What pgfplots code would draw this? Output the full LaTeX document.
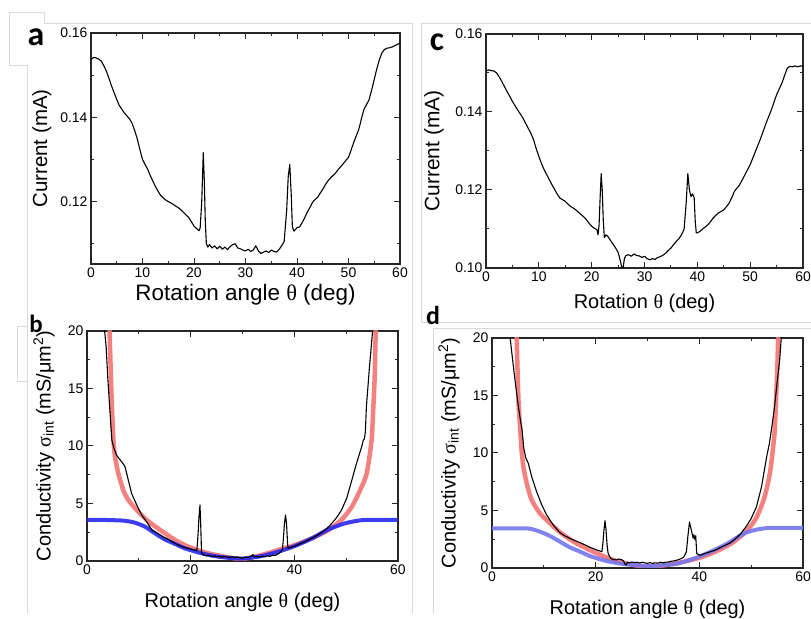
\documentclass[border=0pt]{standalone}
\usepackage{fontspec}
\setmainfont{Liberation Sans}
\newfontfamily\grk{Liberation Serif}
\newfontfamily\panelfont{Carlito}
\usepackage{pgfplots}
\pgfplotsset{compat=1.18}
\definecolor{fitred}{HTML}{F47272}
\definecolor{fitblue}{HTML}{2828F0}
\definecolor{fitbluelt}{HTML}{7676EC}
\definecolor{framegray}{HTML}{DADADA}
\newcommand{\ticksz}{\fontsize{14}{14}\selectfont}
\newcommand{\labsz}{\fontsize{20}{20}\selectfont}
\pgfplotsset{
  panel/.style={
    scale only axis,
    anchor=south west,
    xmin=0, xmax=60,
    axis line style={black!85, line width=1.2bp},
    every tick/.style={black!85, line width=1bp},
    major tick length=6bp,
    minor tick length=3bp,
    tick align=inside,
    tick label style={font=\ticksz},
    label style={font=\labsz},
    /pgf/number format/assume math mode=true,
  },
  current/.style={panel,
    xtick={0,10,...,60}, minor xtick={5,15,...,55},
    scaled y ticks=false,
    yticklabel style={/pgf/number format/.cd, fixed, fixed zerofill, precision=2},
    ylabel={Current (mA)}},
  cond/.style={panel, ymin=0, ymax=20,
    xtick={0,20,40,60}, minor xtick={10,30,50},
    ytick={0,5,10,15,20}, minor ytick={2.5,7.5,12.5,17.5},
    xlabel={Rotation angle {\grk θ} (deg)},
    ylabel={Conductivity {\grk σ}\textsubscript{int} (mS/μm\textsuperscript{2})}},
  meas/.style={black, line width=1.1bp, line join=round},
  redfit/.style={fitred, line width=4.5bp, opacity=0.9, smooth, tension=0.4},
}

\begin{document}
\begin{tikzpicture}[x=1bp, y=1bp]
\useasboundingbox (0,0) rectangle (811,619);

% screenshot frame lines
\draw[framegray, line width=0.8bp]
  (27,6) -- (27,554) -- (9,554) -- (9,607) -- (44,607) -- (44,596) -- (412,596) -- (412,6);
\draw[framegray, line width=0.8bp] (421,297) -- (421,596) -- (811,596);
\draw[framegray, line width=0.8bp] (421,297) -- (811,297);
\draw[framegray, line width=0.8bp] (433,6) -- (433,291) -- (811,291);
\draw[framegray, line width=0.8bp] (27,293) -- (17,293) -- (17,238) -- (27,238);

% ---- panel a
\begin{axis}[current, at={(91bp,355bp)}, width=309bp, height=231bp,
  ymin=0.1052, ymax=0.16,
  ytick={0.12,0.14,0.16}, minor ytick={0.11,0.13,0.15},
  xlabel={Rotation angle {\grk θ} (deg)},
  xlabel style={font=\fontsize{22.5}{22.5}\selectfont, at={(axis description cs:0.5,-0.134)}, anchor=center},
  ylabel style={font=\fontsize{20.5}{20.5}\selectfont, at={(axis description cs:-0.159,0.5)}, anchor=center},
]
\addplot[meas] coordinates {
(0,0.1537) (0.5,0.1542) (1,0.1541) (1.5,0.1538) (2,0.1533) (2.5,0.1522)
(3,0.1509) (3.5,0.1492) (4,0.1474) (4.5,0.1458) (5,0.1442) (5.5,0.1428)
(6,0.1419) (6.5,0.1410) (7,0.1403) (7.5,0.1396) (8,0.1385) (8.5,0.1368)
(9,0.1348) (9.5,0.1323) (10,0.1300) (10.5,0.1288) (11,0.1277) (11.5,0.1262)
(12,0.1249) (12.5,0.1236) (13,0.1225) (13.5,0.1215) (14,0.1209) (14.5,0.1204)
(15,0.1200) (15.5,0.1197) (16,0.1193) (16.5,0.1189) (17,0.1185) (17.5,0.1180)
(18,0.1174) (18.5,0.1168) (19,0.1162) (19.5,0.1152) (20,0.1142) (20.5,0.1136)
(21,0.1131) (21.2,0.1138) (21.5,0.1200) (21.8,0.1316) (22.0,0.1250) (22.2,0.1150)
(22.4,0.1100) (22.7,0.1092) (23,0.1098) (23.5,0.1090) (24,0.1095) (24.5,0.1088)
(25,0.1094) (25.5,0.1087) (26,0.1092) (26.5,0.1086) (27,0.1093) (27.5,0.1098)
(28,0.1100) (28.5,0.1090) (29,0.1088) (29.5,0.1085) (30,0.1083) (30.5,0.1087)
(31,0.1082) (31.5,0.1085) (32,0.1095) (32.5,0.1083) (33,0.1077) (33.5,0.1080)
(34,0.1083) (34.5,0.1079) (35,0.1085) (35.5,0.1082) (36,0.1080) (36.5,0.1086)
(37,0.1095) (37.5,0.1105) (38,0.1180) (38.3,0.1260) (38.6,0.1288) (38.9,0.1210)
(39.1,0.1140) (39.4,0.1130) (40,0.1138) (40.5,0.1140) (41,0.1150) (41.5,0.1162)
(42,0.1175) (42.5,0.1186) (43,0.1198) (43.5,0.1205) (44,0.1210) (44.5,0.1220)
(45,0.1229) (45.5,0.1240) (46,0.1249) (46.5,0.1256) (47,0.1262) (47.5,0.1268)
(48,0.1276) (48.5,0.1283) (49,0.1290) (49.5,0.1298) (50,0.1305) (50.5,0.1322)
(51,0.1340) (51.5,0.1356) (52,0.1371) (52.5,0.1396) (53,0.1419) (53.5,0.1430)
(54,0.1442) (54.5,0.1465) (55,0.1490) (55.5,0.1515) (56,0.1537) (56.5,0.1553)
(57,0.1561) (57.5,0.1564) (58,0.1565) (58.5,0.1567) (59,0.1570) (59.5,0.1573)
(60,0.1576)
};
\end{axis}

% ---- panel c
\begin{axis}[current, at={(486bp,351bp)}, width=317bp, height=234bp,
  ymin=0.10, ymax=0.16,
  ytick={0.10,0.12,0.14,0.16}, minor ytick={0.11,0.13,0.15},
  xlabel={Rotation {\grk θ} (deg)},
  xlabel style={at={(axis description cs:0.5,-0.15)}, anchor=center},
  ylabel style={font=\fontsize{21}{21}\selectfont, at={(axis description cs:-0.164,0.5)}, anchor=center},
]
\addplot[meas] coordinates {
(0,0.1505) (0.5,0.1508) (1,0.1506) (1.5,0.1505) (2,0.1500) (2.5,0.1490)
(3,0.1478) (3.5,0.1465) (4,0.1452) (4.5,0.1440) (5,0.1427) (5.5,0.1416)
(6,0.1405) (6.5,0.1395) (7,0.1384) (7.5,0.1371) (8,0.1358) (8.5,0.1345)
(9,0.1329) (9.5,0.1306) (10,0.1286) (10.5,0.1268) (11,0.1252) (11.5,0.1239)
(12,0.1226) (12.5,0.1213) (13,0.1201) (13.5,0.1189) (14,0.1179) (14.5,0.1175)
(15,0.1171) (15.5,0.1164) (16,0.1158) (16.5,0.1154) (17,0.1149) (17.5,0.1143)
(18,0.1137) (18.5,0.1131) (19,0.1124) (19.5,0.1115) (20,0.1107) (20.5,0.1102)
(21,0.1098) (21.2,0.1085) (21.4,0.1110) (21.6,0.1180) (21.8,0.1242) (22.0,0.1200)
(22.2,0.1120) (22.4,0.1078) (22.7,0.1085) (23,0.1082) (23.5,0.1072) (24,0.1062)
(24.5,0.1052) (25,0.1040) (25.3,0.1025) (25.6,0.1008) (25.9,0.0995) (26.2,0.1025)
(26.5,0.1032) (27,0.1034) (27.5,0.1030) (28,0.1036) (28.5,0.1032) (29,0.1031)
(29.5,0.1027) (30,0.1030) (30.5,0.1024) (31,0.1021) (31.5,0.1024) (32,0.1022)
(32.5,0.1027) (33,0.1029) (33.5,0.1033) (34,0.1038) (34.5,0.1045) (35,0.1051)
(35.5,0.1060) (36,0.1068) (36.5,0.1075) (37,0.1085) (37.5,0.1100) (37.9,0.1170)
(38.2,0.1242) (38.5,0.1200) (38.8,0.1183) (39.1,0.1190) (39.4,0.1180) (39.6,0.1120)
(39.8,0.1090) (40,0.1090) (40.5,0.1094) (41,0.1100) (41.5,0.1105) (42,0.1111)
(42.5,0.1119) (43,0.1128) (43.5,0.1135) (44,0.1141) (44.5,0.1145) (45,0.1149)
(45.5,0.1157) (46,0.1166) (46.5,0.1180) (47,0.1196) (47.5,0.1205) (48,0.1213)
(48.5,0.1226) (49,0.1239) (49.5,0.1252) (50,0.1265) (50.5,0.1282) (51,0.1299)
(51.5,0.1316) (52,0.1333) (52.5,0.1352) (53,0.1371) (53.5,0.1388) (54,0.1405)
(54.5,0.1425) (55,0.1444) (55.5,0.1459) (56,0.1474) (56.5,0.1493) (57,0.1512)
(57.5,0.1517) (58,0.1516) (58.5,0.1518) (59,0.1516) (59.5,0.1518) (60,0.1518)
};
\end{axis}

% ---- panel b
\begin{axis}[cond, at={(87bp,58bp)}, width=311bp, height=230bp,
  xlabel style={at={(axis description cs:0.5,-0.178)}, anchor=center},
  ylabel style={at={(axis description cs:-0.138,0.5)}, anchor=center},
]
\addplot[redfit] coordinates {
(4.30,22) (4.35,20) (4.55,17) (4.8,13.5) (5.1,10.5) (5.4,9.07) (6.04,7.62)
(7.0,6.17) (7.97,5.3) (9.6,4.43) (11.5,3.57) (14.1,2.7) (17.0,1.83) (19.5,1.25)
(23.4,0.67) (27.3,0.32) (30,0.18) (33.7,0.52) (36.9,0.96) (40.1,1.39)
(43.4,1.97) (46.6,2.7) (49.1,3.57) (51.1,4.72) (52.7,6.17) (53.97,7.62)
(54.9,10.5) (55.2,13) (55.5,16) (55.7,20) (55.8,22)
};
\addplot[fitblue, line width=4bp, opacity=0.9, smooth, tension=0.4] coordinates {
(0,3.57) (3,3.57) (5,3.55) (7.3,3.5) (9.26,3.33) (11.2,2.98) (13.1,2.41)
(15,1.88) (17,1.48) (18.9,1.1) (22.1,0.67) (25.3,0.38) (29.8,0.2)
(33.7,0.43) (36.9,0.81) (40.1,1.3) (43.4,1.97) (46.6,2.75) (49.8,3.28)
(53,3.55) (56,3.57) (60,3.57)
};
\addplot[meas] coordinates {
(3.3,21) (3.4,20) (3.7,18.6) (4.0,16) (4.5,12.5) (4.8,10.5) (5.2,9.8) (5.7,9.2)
(6.2,8.9) (6.7,8.63) (7.33,8.2) (7.97,7.04) (8.6,5.88) (9.6,4.87) (10.55,4.0)
(11.5,3.42) (12.5,2.7) (13.8,2.35) (14.7,2.1) (15.7,1.88) (16.6,1.62) (17.6,1.39)
(18.5,1.22) (19.5,1.1) (20.3,1.0) (20.8,0.96) (21.2,0.9) (21.45,2.5) (21.6,3.8)
(21.8,4.87) (21.95,3.0) (22.1,0.67) (22.5,0.55) (23,0.45) (23.5,0.5) (24,0.38)
(24.5,0.45) (25,0.36) (25.5,0.42) (26,0.33) (26.5,0.4) (27,0.35) (27.5,0.3)
(28,0.38) (28.5,0.3) (29,0.35) (29.5,0.28) (30,0.25) (30.5,0.33) (31,0.3)
(31.5,0.38) (32,0.55) (32.3,0.35) (32.8,0.4) (33.3,0.33) (33.8,0.42) (34.3,0.38)
(34.8,0.45) (35.3,0.4) (35.8,0.5) (36.3,0.48) (36.8,0.6) (37.3,0.75) (37.7,0.96)
(37.9,2.0) (38.1,3.3) (38.3,4.0) (38.5,3.2) (38.7,1.5) (38.8,1.1) (39.4,1.2)
(40.1,1.3) (41.1,1.5) (42.1,1.68) (43,1.9) (44.0,2.12) (45,2.4) (45.9,2.7)
(46.9,3.1) (47.8,3.57) (48.5,4.0) (49.1,4.43) (50.1,5.45) (51.1,7.04) (52.0,8.5)
(53.0,9.94) (53.3,10.5) (53.5,10.6) (53.7,11.2) (53.9,13.4) (54.5,16.9) (55.1,20)
(55.2,21)
};
\end{axis}

% ---- panel d
\begin{axis}[cond, at={(492bp,51bp)}, width=311bp, height=230bp,
  xlabel style={at={(axis description cs:0.5,-0.178)}, anchor=center},
  ylabel style={at={(axis description cs:-0.138,0.5)}, anchor=center},
]
\addplot[redfit] coordinates {
(4.7,22) (4.76,20) (5.1,14.6) (5.5,11.7) (5.7,10.26) (6.05,8.8) (6.7,7.36)
(7.66,5.9) (9.26,4.75) (11.2,3.88) (13.4,3.01) (16.3,2.14) (20.2,1.28)
(23.4,0.7) (27.3,0.26) (30,0.12) (33,0.22) (36,0.45) (38.5,0.7) (40.8,1.0)
(43,1.4) (45.3,1.9) (47,2.4) (48.6,3.0) (50,3.7) (51.1,4.45) (52.4,5.9)
(53.2,7.3) (53.8,8.8) (54.5,11.7) (54.8,14.6) (55.05,17.5) (55.2,20) (55.3,22)
};
\addplot[fitbluelt, line width=4bp, opacity=0.9, smooth, tension=0.4] coordinates {
(0,3.45) (5,3.45) (7.3,3.42) (9.26,3.16) (11.2,2.78) (13.1,2.29) (15,1.8)
(17,1.42) (18.9,1.04) (22.1,0.61) (25.3,0.35) (29.8,0.17) (32.5,0.22)
(35.7,0.38) (38.9,0.81) (42.1,1.4) (45.3,2.1) (48.6,3.0) (51.1,3.34)
(53.7,3.49) (60,3.49)
};
\addplot[meas] coordinates {
(3.4,21) (3.5,20) (3.9,18.4) (4.5,16.1) (5.1,14.0) (5.5,12.8) (5.8,12.0)
(6.1,10.5) (6.5,9.6) (7.0,9.1) (7.66,7.94) (8.6,6.64) (9.6,5.48) (10.55,4.61)
(11.8,3.74) (13.1,3.07) (14.0,2.8) (15.0,2.58) (16,2.38) (17.0,2.2) (18,2.0)
(18.9,1.8) (20.2,1.57) (21.2,1.42) (21.4,2.2) (21.6,3.3) (21.8,4.11) (22.0,3.3)
(22.2,2.0) (22.4,1.28) (22.9,0.83) (23.4,0.74) (24,0.7) (24.5,0.78) (25,0.72)
(25.4,0.6) (25.7,0.3) (25.9,0.26) (26.1,0.5) (26.5,0.45) (27,0.52) (27.5,0.48)
(28,0.5) (28.5,0.43) (29,0.5) (29.5,0.45) (30,0.4) (30.5,0.47) (31,0.4)
(31.5,0.45) (32,0.42) (32.5,0.5) (33,0.45) (33.5,0.5) (34,0.52) (34.5,0.58)
(35,0.61) (35.5,0.66) (36,0.73) (36.5,0.82) (37,0.96) (37.5,1.4) (37.8,2.8)
(38.1,4.0) (38.4,3.4) (38.6,3.0) (38.8,2.6) (38.95,2.9) (39.1,2.5) (39.3,2.8)
(39.5,1.25) (40.2,1.1) (41,1.25) (42,1.4) (43,1.54) (44,1.77) (45,1.98)
(46,2.2) (47,2.56) (48,3.0) (49,3.58) (50,4.3) (51,5.3) (52,7.06) (53,9.7)
(53.5,10.8) (54,12.3) (54.5,14.0) (55,16.1) (55.5,18.1) (55.8,20) (55.9,21)
};
\end{axis}

% panel letters
\node[inner sep=0pt, font=\panelfont\bfseries\fontsize{34}{34}\selectfont] at (36,582) {a};
\node[inner sep=0pt, font=\panelfont\bfseries\fontsize{25}{25}\selectfont] at (36,295) {b};
\node[inner sep=0pt, font=\panelfont\bfseries\fontsize{34}{34}\selectfont] at (437,577) {c};
\node[inner sep=0pt, font=\panelfont\bfseries\fontsize{26}{26}\selectfont] at (433,303) {d};
\end{tikzpicture}
\end{document}
